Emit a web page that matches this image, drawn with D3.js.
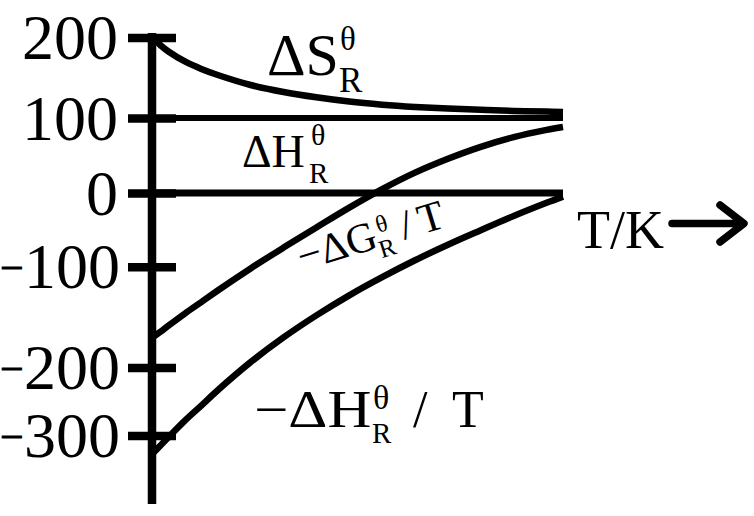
<!DOCTYPE html>
<html>
<head>
<meta charset="utf-8">
<script src="https://cdn.jsdelivr.net/npm/d3@7"></script>
<style>
  html, body { margin: 0; padding: 0; background: #fff; }
  svg { display: block; }
  text { font-family: "Liberation Serif", "Times New Roman", serif; fill: #000; }
</style>
</head>
<body>
<svg id="chart" width="754" height="516"></svg>
<script>
// ---- data (schematic, arbitrary temperature units) ----
const T       = [0, 2, 4, 8, 12, 16, 24, 32, 40, 48, 56, 64, 72, 80, 88, 96, 100];
const dS      = [200, 190.7, 182.6, 170.2, 160.9, 153.4, 141, 132.3, 125.7, 120.4, 116.6, 113.8, 111.7, 110.1, 108.8, 108, 107.5];
const negDG_T = [-170.7, -164.7, -158.5, -146.5, -135.1, -123.6, -101.7, -74.1, -46.7, -19.8, 5.2, 27.2, 45.7, 61.6, 74.4, 84.1, 88];
const negDH_T = [-327.2, -314.9, -302.5, -278.1, -255.9, -233.4, -194.7, -170.2, -148.3, -128.4, -110.4, -91.3, -70.2, -50.5, -31.2, -13.3, -4.9];
const dH_T    = [0, 100];
const dH      = [100, 100];
const yTicks  = [200, 100, 0, -100, -200, -300];

// ---- layout ----
const svg = d3.select("#chart");
const x = d3.scaleLinear().domain([0, 100]).range([152, 563]);
// hand-drawn, non-uniform vertical axis
const y = d3.scaleLinear()
  .domain([200, 100, 0, -100, -200, -300, -400])
  .range([37.5, 118, 193, 266.7, 367.5, 435.5, 504]);

// vertical axis line
svg.append("line")
  .attr("x1", x(0)).attr("x2", x(0))
  .attr("y1", y(200) - 4.5).attr("y2", y(-400))
  .attr("stroke", "#000").attr("stroke-width", 8.5);

// ticks crossing the axis (labels drawn separately)
const axis = d3.axisLeft(y)
  .tickValues(yTicks)
  .tickSize(48)
  .tickFormat(() => "");
const gAxis = svg.append("g")
  .attr("transform", `translate(${x(0) + 24},0)`)
  .call(axis);
gAxis.select(".domain").remove();
gAxis.selectAll(".tick text").remove();
gAxis.selectAll(".tick line").attr("stroke", "#000").attr("stroke-width", 8.5);

// tick labels: digits, plus a separate minus sign for negative values
const gLab = svg.append("g");
gLab.selectAll("text.num").data(yTicks).enter().append("text")
  .attr("class", "num")
  .attr("x", d => d < 0 ? 120 : 118)
  .attr("y", d => y(d))
  .attr("dy", "0.34em")
  .attr("font-size", 64)
  .attr("text-anchor", "end")
  .text(d => String(Math.abs(d)));
gLab.selectAll("text.minus").data(yTicks.filter(d => d < 0)).enter().append("text")
  .attr("class", "minus")
  .attr("x", 0)
  .attr("y", d => y(d) + 15.5)
  .attr("font-size", 42)
  .attr("stroke", "#000")
  .attr("stroke-width", 0.8)
  .text("\u2212");

// zero line (T axis)
svg.append("line")
  .attr("x1", x(0)).attr("x2", x(100))
  .attr("y1", y(0)).attr("y2", y(0))
  .attr("stroke", "#000").attr("stroke-width", 7);

const line = d3.line().x(d => x(d[0])).y(d => y(d[1])).curve(d3.curveCatmullRom.alpha(0.5));
const series = [
  { vals: d3.zip(dH_T, dH), w: 6 },
  { vals: d3.zip(T, dS), w: 6.5 },
  { vals: d3.zip(T, negDG_T), w: 6.5 },
  { vals: d3.zip(T, negDH_T), w: 6.5 }
];
svg.selectAll("path.curve").data(series).enter().append("path")
  .attr("class", "curve")
  .attr("d", d => line(d.vals))
  .attr("fill", "none")
  .attr("stroke", "#000")
  .attr("stroke-width", d => d.w);

// ---- labels ----
function t(parent, str, px, py, size, anchor) {
  return parent.append("text").attr("x", px).attr("y", py)
    .attr("font-size", size).attr("text-anchor", anchor || "start").text(str);
}
// ΔS_R^θ
t(svg, "\u0394S", 267, 75, 60);
t(svg, "R", 339, 92, 35);
t(svg, "\u03B8", 340, 50, 33);

// ΔH_R^θ
t(svg, "\u0394H", 242, 167, 46);
t(svg, "R", 309, 183, 29);
t(svg, "\u03B8", 311, 145, 30);

// −ΔG_R^θ / T (rotated)
const gG = svg.append("g").attr("transform", "translate(302,271) rotate(-17)");
t(gG, "\u2212\u0394G", 0, 0, 42);
t(gG, "R", 80, 11, 25);
t(gG, "\u03B8", 84, -14, 24);
t(gG, "/", 107, 0, 42);
t(gG, "T", 126, 0, 42);

// −ΔH_R^θ / T
const gH = svg.append("g").attr("transform", "translate(254,427) scale(1.17,1)");
t(gH, "\u2212\u0394H", 0, 0, 52);
t(svg, "R", 372, 443, 29);
t(svg, "\u03B8", 373, 409, 34);
t(svg, "/", 413, 427, 52);
t(svg, "T", 452, 427, 52);

// T/K →
t(svg, "T/K", 577, 248, 54);
svg.append("path")
  .attr("d", "M672,223.5 H741 M720,205 L744,223.5 L720,242")
  .attr("fill", "none").attr("stroke", "#000")
  .attr("stroke-width", 7.5).attr("stroke-linecap", "round").attr("stroke-linejoin", "round");
</script>
</body>
</html>
